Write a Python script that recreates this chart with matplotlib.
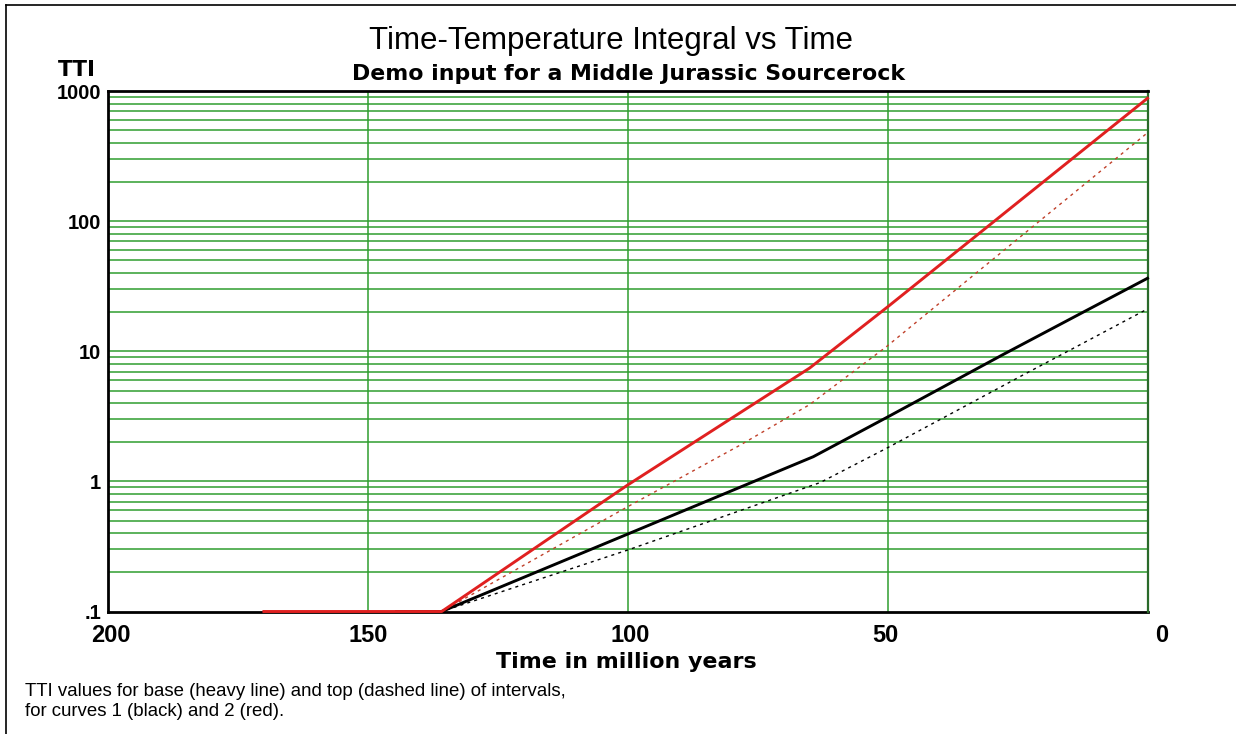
import matplotlib
matplotlib.use("Agg")
import matplotlib.pyplot as plt
import matplotlib.transforms as mtransforms
from matplotlib.lines import Line2D

# ---------------- data ----------------
red_base_t = [170, 135.8, 100, 65, 50, 0]
red_base_v = [0.1, 0.1, 0.94, 7.45, 22, 884]

red_top_t = [144.5, 135.8, 100, 78.4, 65, 50.2, 21.3, 0]
red_top_v = [0.1, 0.1, 0.64, 1.9, 3.9, 10.9, 96.6, 480]

black_base_t = [144.5, 135.8, 100, 64.3, 50.2, 27.7, 12.4, 0]
black_base_v = [0.1, 0.1, 0.394, 1.55, 3.1, 9.5, 20.0, 36.5]

black_top_t = [144.5, 135.8, 100, 63, 50.2, 23.9, 0]
black_top_v = [0.1, 0.1, 0.297, 0.98, 1.8, 6.6, 21.2]

x_ticks = [200, 150, 100, 50, 0]
x_ticklabels = ["200", "150", "100", "50", "0"]
y_ticks = [1000, 100, 10, 1, 0.1]
y_ticklabels = ["1000", "100", "10", "1", ".1"]

title = "Time-Temperature Integral vs Time"
subtitle = "Demo input for a Middle Jurassic Sourcerock"
xlabel = "Time in million years"
ylabel = "TTI"
footer = ["TTI values for base (heavy line) and top (dashed line) of intervals,",
          "for curves 1 (black) and 2 (red)."]

sans = "Liberation Sans"
wide = "DejaVu Sans"

W, H = 1236, 734
fig = plt.figure(figsize=(W / 100, H / 100), dpi=100)
fig.patch.set_facecolor("white")

L, R, T, B = 108, 1147.5, 91.3, 611.5
ax = fig.add_axes([L / W, 1 - B / H, (R - L) / W, (B - T) / H])
ax.set_yscale("log")
ax.set_xlim(200, 0)
ax.set_ylim(0.1, 1000)

grid_c = "#2f9e2f"
for dec in [0.1, 1, 10, 100]:
    for m in range(1, 10):
        v = dec * m
        if v <= 0.1:
            continue
        ax.axhline(v, color=grid_c, lw=1.1, zorder=1)
for xv in [150, 100, 50]:
    ax.axvline(xv, color=grid_c, lw=1.1, zorder=1)

dash = (0, (2.2, 3.0))
ax.plot(black_top_t, black_top_v, color="black", lw=1.0, ls=dash, zorder=3, clip_on=False)
ax.plot(red_top_t, red_top_v, color="#c0402a", lw=1.0, ls=dash, zorder=3, clip_on=False)
ax.plot(black_base_t, black_base_v, color="black", lw=2.1, zorder=4, clip_on=False)
ax.plot(red_base_t, red_base_v, color="#e02020", lw=2.1, zorder=5, clip_on=False)

for s in ["left", "top", "bottom"]:
    ax.spines[s].set_color("black")
    ax.spines[s].set_linewidth(2.0)
ax.spines["right"].set_color("#2a6a2a")
ax.spines["right"].set_linewidth(1.6)
ax.spines["bottom"].set_zorder(2)

ax.set_xticks(x_ticks)
ax.set_xticklabels(x_ticklabels)
ax.set_yticks(y_ticks)
ax.set_yticklabels(y_ticklabels)
ax.minorticks_off()
ax.tick_params(axis="both", length=0)
ax.tick_params(axis="y", pad=5)
ax.tick_params(axis="x", pad=9)
for lab in ax.get_yticklabels():
    lab.set_fontfamily(sans)
    lab.set_fontweight("bold")
    lab.set_fontsize(14.5)
for lab in ax.get_xticklabels():
    lab.set_fontfamily(sans)
    lab.set_fontweight("bold")
    lab.set_fontsize(17)

offsets = {"0": 14, "200": 3, "100": 2, "50": -2}
for lab in ax.get_xticklabels():
    dx = offsets.get(lab.get_text(), 0)
    if dx:
        lab.set_transform(lab.get_transform() +
                          mtransforms.ScaledTranslation(dx / 100, 0, fig.dpi_scale_trans))

fig.text(611 / W, 1 - 41 / H, title, ha="center", va="center",
         fontfamily=sans, fontsize=22.5)
fig.text(629 / W, 1 - 74 / H, subtitle, ha="center", va="center",
         fontfamily=wide, fontweight="bold", fontsize=15.8)
fig.text(77 / W, 1 - 70 / H, ylabel, ha="center", va="center",
         fontfamily=wide, fontweight="bold", fontsize=15.5)
fig.text(626 / W, 1 - 662 / H, xlabel, ha="center", va="center",
         fontfamily=wide, fontweight="bold", fontsize=15.9)
fig.text(25 / W, 1 - 691 / H, footer[0], ha="left", va="center",
         fontfamily=sans, fontsize=13.4)
fig.text(25 / W, 1 - 711 / H, footer[1], ha="left", va="center",
         fontfamily=sans, fontsize=13.4)

fig.add_artist(Line2D([6 / W, 6 / W], [0, 1 - 5 / H], transform=fig.transFigure,
                      color="black", lw=1.2))
fig.add_artist(Line2D([6 / W, 1], [1 - 5 / H, 1 - 5 / H], transform=fig.transFigure,
                      color="black", lw=1.2))

fig.savefig("out.png", dpi=100, facecolor="white")
